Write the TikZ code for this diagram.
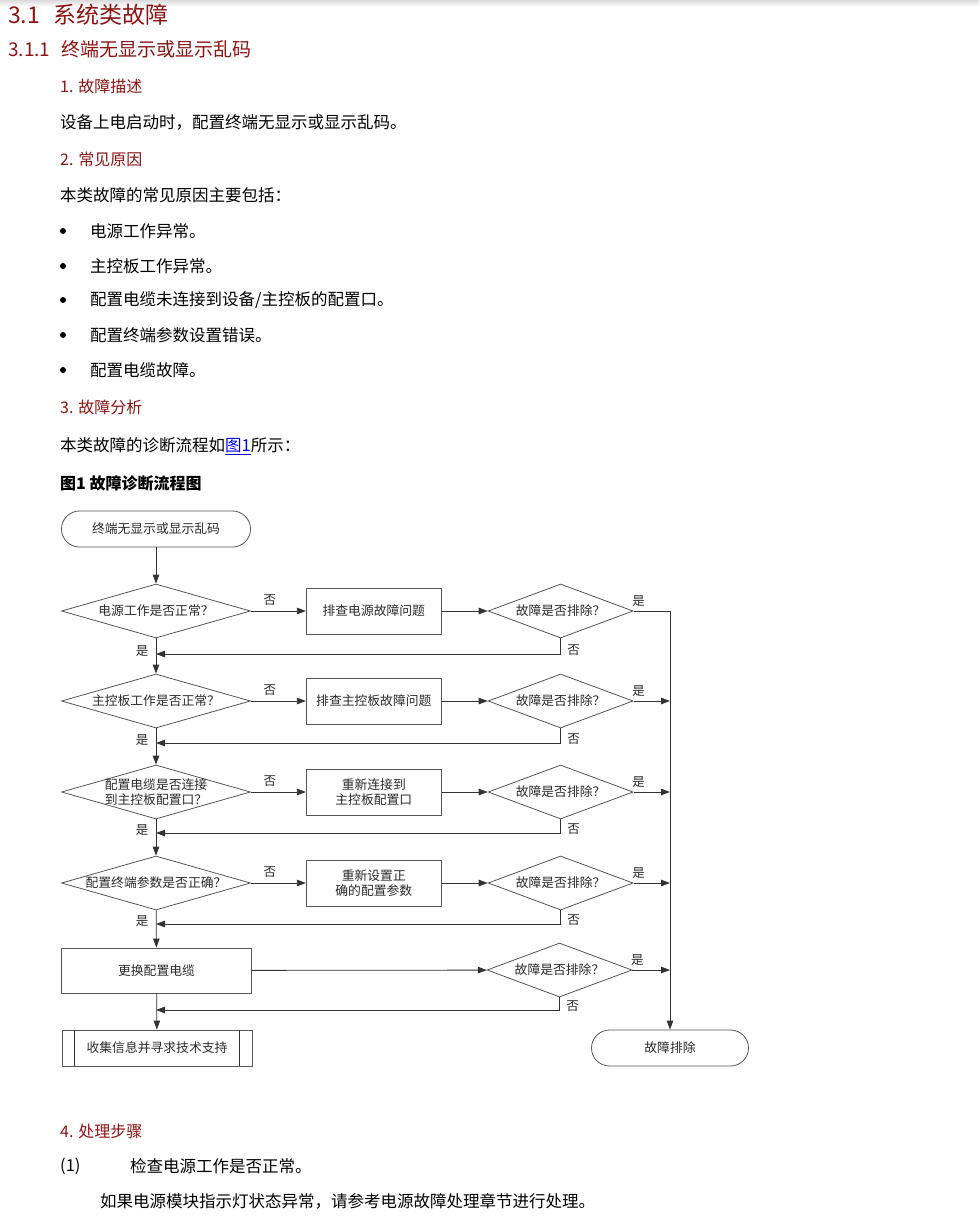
\documentclass[tikz,border=0pt]{standalone}
\usepackage{fontspec}
\setmainfont{Noto Sans CJK SC}
\usetikzlibrary{positioning,arrows.meta,calc,shapes.geometric}
\definecolor{headRed}{HTML}{8B1414}
\definecolor{linkBlue}{HTML}{0000EE}
\definecolor{inkGray}{HTML}{2B2B2B}
\definecolor{lineDark}{HTML}{333333}
\definecolor{boxGray}{HTML}{555555}
\tikzset{
    headone/.style={anchor=west,inner sep=0pt,text=headRed,font=\fontsize{23}{26}\selectfont},
    headtwo/.style={anchor=west,inner sep=0pt,text=headRed,font=\fontsize{19}{22}\selectfont},
    headthree/.style={anchor=west,inner sep=0pt,text=headRed,font=\fontsize{16}{19}\selectfont},
    bodytext/.style={anchor=west,inner sep=0pt,text=black,font=\fontsize{16.5}{19}\selectfont},
    decision/.style={diamond,draw=boxGray,line width=0.8pt,inner sep=0pt,
        minimum width=189pt,minimum height=54pt},
    checkdec/.style={diamond,draw=boxGray,line width=0.8pt,inner sep=0pt,
        minimum width=145pt,minimum height=54pt},
    dtext/.style={align=center,inner sep=0pt,text=inkGray,
        font=\fontsize{12.8}{15}\selectfont},
    procbox/.style={draw=boxGray,line width=0.8pt,minimum width=135pt,minimum height=46pt,
        align=center,text=inkGray,font=\fontsize{12.8}{15}\selectfont},
    termbox/.style={rounded corners=18pt,draw=boxGray,line width=0.8pt,minimum height=36pt,
        align=center,text=inkGray,font=\fontsize{12.8}{15}\selectfont},
    arrow/.style={-{Triangle[length=9pt,width=6.5pt]},draw=lineDark,line width=0.8pt},
    plainline/.style={draw=lineDark,line width=0.8pt},
    lbl/.style={inner sep=0pt,text=inkGray,font=\fontsize{12.5}{14}\selectfont}
}
\begin{document}
\begin{tikzpicture}[x=1pt,y=-1pt]
    \useasboundingbox (0,0) rectangle (979,1222);
    \fill[white] (0,0) rectangle (979,1222);
    \shade[top color=black!14,bottom color=white] (0,0) rectangle (979,7);

    % text above the figure
    \node[headone] (sec) at (8,15) {3.1\hspace{0.6em}系统类故障};
    \node[headtwo] (subsec) at (8,49) {3.1.1\hspace{0.6em}终端无显示或显示乱码};
    \node[headthree] (desc) at (60,86) {1. 故障描述};
    \node[bodytext] (desctxt) at (60,122) {设备上电启动时，配置终端无显示或显示乱码。};
    \node[headthree] (cause) at (60,159) {2. 常见原因};
    \node[bodytext] (causetxt) at (60,195) {本类故障的常见原因主要包括：};
    \foreach \y/\t [count=\i] in {231/{电源工作异常。},266/{主控板工作异常。},
        300/{配置电缆未连接到设备/主控板的配置口。},335/{配置终端参数设置错误。},370/{配置电缆故障。}}{
        \fill (63,\y) circle (3pt);
        \node[bodytext] (item\i) at (90,\y) {\t};
    }
    \node[headthree] (anal) at (60,407) {3. 故障分析};
    \node[bodytext] (analtxt) at (60,446) {本类故障的诊断流程如\textcolor{linkBlue}{\underline{图1}}所示：};
    \node[bodytext,font=\fontsize{16}{19}\selectfont\bfseries] (figcap) at (60,483) {图1 故障诊断流程图};

    % flowchart
    \node[termbox,minimum width=189pt] (start) at (156,529) {终端无显示或显示乱码};

    \node[decision,label={[dtext]center:电源工作是否正常？}] (d1) at (156,611) {};
    \node[procbox,right=55pt of d1] (b1) {排查电源故障问题};
    \node[checkdec,right=46pt of b1,label={[dtext]center:故障是否排除？}] (r1) {};

    \node[decision,label={[dtext]center:主控板工作是否正常？}] (d2) at (156,701) {};
    \node[procbox,right=55pt of d2] (b2) {排查主控板故障问题};
    \node[checkdec,right=46pt of b2,label={[dtext]center:故障是否排除？}] (r2) {};

    \node[decision,label={[dtext]center:配置电缆是否连接\\到主控板配置口？}] (d3) at (156,792) {};
    \node[procbox,right=55pt of d3] (b3) {重新连接到\\主控板配置口};
    \node[checkdec,right=46pt of b3,label={[dtext]center:故障是否排除？}] (r3) {};

    \node[decision,label={[dtext]center:配置终端参数是否正确？}] (d4) at (156,883) {};
    \node[procbox,right=55pt of d4] (b4) {重新设置正\\确的配置参数};
    \node[checkdec,right=46pt of b4,label={[dtext]center:故障是否排除？}] (r4) {};

    \node[procbox,minimum width=190pt,minimum height=45pt] (b5) at (156.5,970.5) {更换配置电缆};
    \node[checkdec,label={[dtext]center:故障是否排除？}] (r5) at (559.5,970) {};

    \node[procbox,minimum width=190pt,minimum height=36pt] (fin) at (157,1048) {收集信息并寻求技术支持};
    \draw[plainline] ([xshift=13pt]fin.north west) -- ([xshift=13pt]fin.south west);
    \draw[plainline] ([xshift=-13pt]fin.north east) -- ([xshift=-13pt]fin.south east);
    \node[termbox,minimum width=157pt] (done) at (670,1048) {故障排除};

    % return points on the main column
    \foreach \i/\y in {1/654,2/743,3/833,4/924,5/1010}{
        \coordinate (f\i) at (156,\y);
    }

    \draw[arrow] (start) -- (d1);
    \draw[arrow] (d1) -- (d2);
    \draw[arrow] (d2) -- (d3);
    \draw[arrow] (d3) -- (d4);
    \draw[arrow] (d4) -- (b5);
    \draw[arrow] (b5) -- (fin);
    \foreach \i in {1,2,3,4}{
        \draw[arrow] (d\i) -- (b\i);
        \draw[arrow] (b\i) -- (r\i);
    }
    \draw[arrow] (b5) -- (r5);
    \foreach \i in {1,...,5}{
        \draw[arrow] (r\i.south) |- (f\i);
    }
    \draw[arrow] (r1.east) -- (r1.east -| done.north) -- (done.north);
    \foreach \i in {2,...,5}{
        \draw[arrow] (r\i.east) -- (r\i.east -| done.north);
    }

    % branch labels
    \foreach \i in {1,...,4}{
        \node[lbl] (no\i) at ($(d\i.east)+(19,-11)$) {否};
        \node[lbl] (yes\i) at ($(f\i)+(-14,-3)$) {是};
    }
    \foreach \i in {1,...,5}{
        \node[lbl] (ok\i) at ($(r\i.east)+(5,-10)$) {是};
        \node[lbl] (nok\i) at ($(r\i.south |- f\i)+(13,-4)$) {否};
    }

    % text below the figure
    \node[headthree] (steps) at (60,1131) {4. 处理步骤};
    \node[bodytext] (stepno) at (60,1166) {(1)};
    \node[bodytext] (steptxt) at (130,1166) {检查电源工作是否正常。};
    \node[bodytext] (stepnote) at (100,1201) {如果电源模块指示灯状态异常，请参考电源故障处理章节进行处理。};
\end{tikzpicture}
\end{document}
